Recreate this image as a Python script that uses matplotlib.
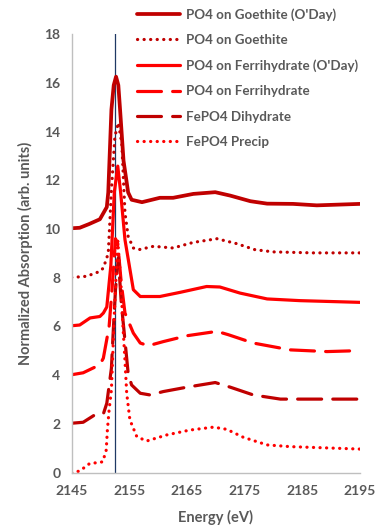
import matplotlib
matplotlib.use("Agg")
import matplotlib.pyplot as plt

plt.rcParams['font.family'] = ['Lato', 'DejaVu Sans']

# ---- data ----
labels = ["PO4 on Goethite (O'Day)", "PO4 on Goethite", "PO4 on Ferrihydrate (O'Day)",
          "PO4 on Ferrihydrate", "FePO4 Dihydrate", "FePO4 Precip"]

goe_oday_x = [2145, 2146.4, 2148, 2149.9, 2151.1, 2151.35, 2151.9, 2152.3, 2152.7, 2153.1, 2153.4,
              2154.0, 2154.8, 2155.4, 2157.2, 2160.3, 2162.6, 2166.1, 2169.9, 2172.5, 2176,
              2178.9, 2183.4, 2187.5, 2195]
goe_oday_y = [10.03, 10.05, 10.2, 10.4, 10.9, 11.5, 14.9, 15.9, 16.25, 15.9, 14.9,
              12.8, 11.5, 11.2, 11.1, 11.28, 11.28, 11.44, 11.51, 11.37, 11.14,
              11.04, 11.03, 10.97, 11.03]

goe_x = [2145, 2147.6, 2149.9, 2150.5, 2151.35, 2151.65, 2151.9, 2152.5, 2153.1, 2153.7, 2154.25,
         2154.8, 2155.7, 2156.6, 2157.2, 2159.2, 2162.6, 2166.1, 2170.2, 2173.6, 2176.8,
         2180, 2186.9, 2195]
goe_y = [8.01, 8.06, 8.26, 8.4, 9.0, 10.4, 11.6, 13.8, 14.36, 13.5, 10.66,
         9.7, 9.22, 9.15, 9.18, 9.29, 9.22, 9.45, 9.6, 9.4, 9.15,
         9.06, 9.02, 9.02]

fh_oday_x = [2145, 2146.4, 2148.2, 2149.9, 2150.5, 2151.1, 2151.8, 2152.4, 2153.0, 2153.5,
             2154.25, 2155.7, 2156.9, 2160.3, 2163.8, 2168.4, 2170.7, 2174.2, 2178.9, 2184.6, 2195]
fh_oday_y = [6.03, 6.06, 6.35, 6.41, 6.55, 6.8, 8.5, 11.5, 12.58, 11.5,
             9.56, 7.51, 7.23, 7.23, 7.4, 7.64, 7.62, 7.37, 7.13, 7.06, 6.99]

fh_x = [2145, 2147, 2149.9, 2150.5, 2151.5, 2152.0, 2152.6, 2153.0, 2153.6, 2154.25, 2155.7,
        2156.9, 2158.3, 2160.9, 2165, 2170.2, 2172.2, 2176.5, 2182.9, 2189.3, 2195]
fh_y = [4.02, 4.1, 4.43, 4.7, 6.0, 7.5, 9.6, 9.4, 7.8, 6.55, 5.73,
        5.32, 5.21, 5.38, 5.62, 5.8, 5.66, 5.32, 5.04, 4.97, 5.01]

dih_x = [2145, 2147, 2149, 2150.5, 2151.1, 2151.9, 2152.2, 2152.6, 2153.1, 2153.6, 2154.8,
         2155.4, 2156.9, 2158.6, 2160.9, 2165, 2169.9, 2172.5, 2176.5, 2181.2, 2195]
dih_y = [2.03, 2.07, 2.37, 2.41, 2.85, 4.29, 5.73, 7.5, 8.81, 7.0, 4.08,
         3.6, 3.26, 3.19, 3.33, 3.51, 3.7, 3.51, 3.19, 3.02, 3.02]

pre_x = [2145, 2146.4, 2148.2, 2149.6, 2150.4, 2151.0, 2151.2, 2151.5, 2151.9, 2152.4, 2153.0,
         2153.5, 2153.9, 2154.25, 2154.55, 2155.1, 2156.3, 2158, 2161.5, 2165.5, 2169.6,
         2171.9, 2174.8, 2178.9, 2182.9, 2195]
pre_y = [0, 0.07, 0.39, 0.41, 0.45, 0.93, 1.75, 2.58, 3.4, 6.5, 9.5,
         8.0, 6.0, 4.6, 3.26, 2.17, 1.48, 1.3, 1.55, 1.75, 1.87,
         1.78, 1.45, 1.14, 1.07, 0.97]

edge_energy = 2152.6
x_ticks = [2145, 2155, 2165, 2175, 2185, 2195]
y_ticks = [0, 2, 4, 6, 8, 10, 12, 14, 16, 18]

# ---- styles ----
dark = '#C00000'
red = '#FF0000'
txt = '#595959'
lw = 2.3
dot = (0, (0.05, 2.0))
dash = (0, (7.5, 3.5))

fig = plt.figure(figsize=(3.75, 5.25), dpi=100)
ax = fig.add_axes([0.191, 0.0996, 0.769, 0.8356])

series = [
    (goe_oday_x, goe_oday_y, dark, '-'),
    (goe_x, goe_y, dark, dot),
    (fh_oday_x, fh_oday_y, red, '-'),
    (fh_x, fh_y, red, dash),
    (dih_x, dih_y, dark, dash),
    (pre_x, pre_y, red, dot),
]
handles = []
for (x, y, c, ls), lab in zip(series, labels):
    h, = ax.plot(x, y, color=c, lw=lw + (0.4 if ls == '-' and c == dark else 0), linestyle=ls,
                 label=lab, solid_capstyle='round', dash_capstyle='round', solid_joinstyle='round')
    handles.append(h)

ax.axvline(edge_energy, color='#1F3864', lw=0.9, zorder=0)

ax.set_xlim(2145, 2195)
ax.set_ylim(0, 18)
ax.set_xticks(x_ticks)
ax.set_yticks(y_ticks)
ax.tick_params(length=0, labelsize=10, labelcolor=txt)
ax.tick_params(axis='x', pad=9)
ax.tick_params(axis='y', pad=8)
for lab in ax.get_xticklabels() + ax.get_yticklabels():
    lab.set_fontweight('bold')
for s in ['top', 'right']:
    ax.spines[s].set_visible(False)
for s in ['left', 'bottom']:
    ax.spines[s].set_color('#BFBFBF')
    ax.spines[s].set_linewidth(1)

ax.set_xlabel('Energy (eV)', fontsize=10.5, fontweight='bold', color=txt, labelpad=9)
ax.set_ylabel('Normalized Absorption (arb. units)', fontsize=10.5, fontweight='bold', color=txt, labelpad=8)

leg = fig.legend(handles=handles, loc='upper left', bbox_to_anchor=(0.345, 1.0),
                 frameon=False, fontsize=9.6, handlelength=3.2, handletextpad=0.45,
                 labelspacing=1.0, borderaxespad=0.2)
for t in leg.get_texts():
    t.set_color(txt)
    t.set_fontweight('bold')

fig.savefig('out.png', dpi=100)
